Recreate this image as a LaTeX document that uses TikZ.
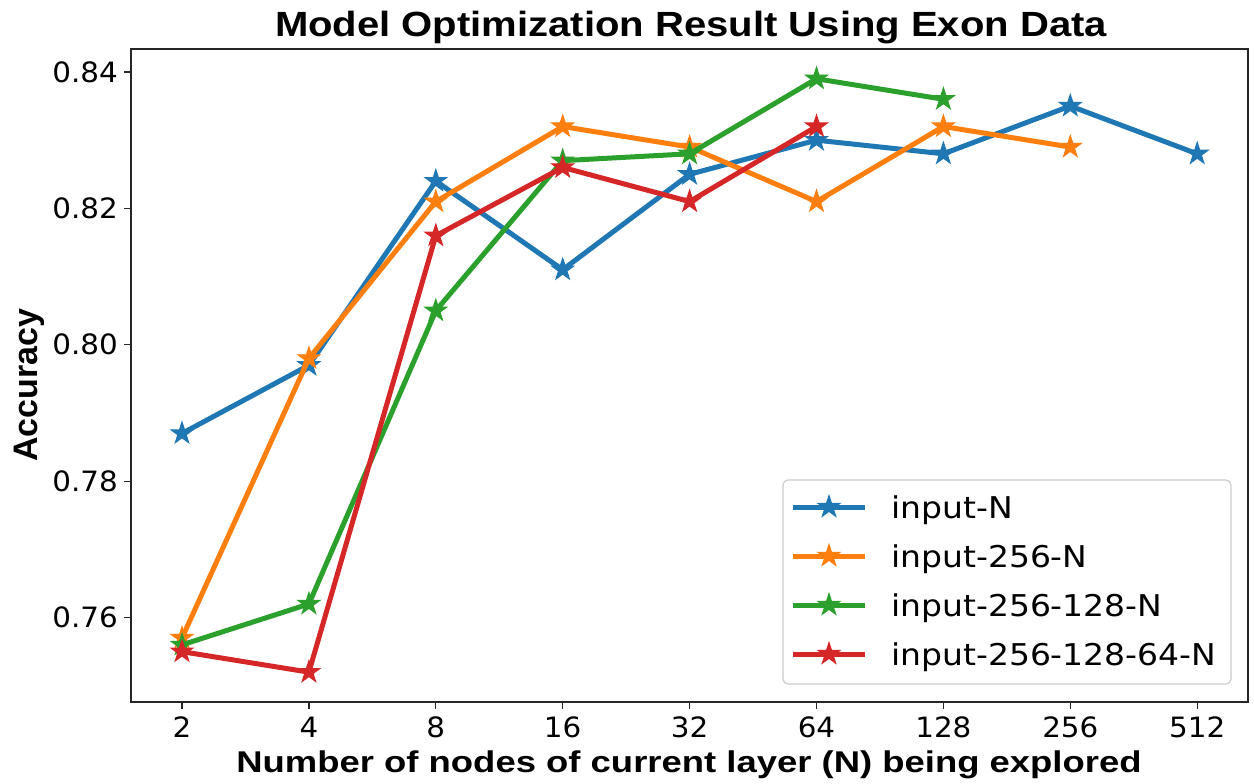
\documentclass[tikz,border=0pt]{standalone}
\usepackage{fontspec}
\setmainfont{DejaVu Sans}
\newfontfamily\labfont{Liberation Sans}
\usetikzlibrary{shapes.geometric}
\definecolor{tabblue}{HTML}{1F77B4}
\definecolor{taborange}{HTML}{FF7F0E}
\definecolor{tabgreen}{HTML}{2CA02C}
\definecolor{tabred}{HTML}{D62728}
\definecolor{legframe}{HTML}{CCCCCC}
\newcommand\tickfont{\fontsize{28}{30}\selectfont}
\newcommand\legfont{\fontsize{30}{32}\selectfont}
\newcommand\tkstretch[1]{\scalebox{1.05}[1]{#1}}
\newcommand\legstretch[1]{\scalebox{1.1}[1]{#1}}
\newcommand\drawseries[4]{%
  \foreach \i/\v in {#3} {\coordinate (#1\i) at ({182+126.9*\i},{72+(0.84-\v)*6820});}
  \draw[serline,#2] (#10) \foreach \k in {1,...,#4} { -- (#1\k) };
  \foreach \k in {0,...,#4} {\node[mstar,fill=#2,draw=#2] (#1s\k) at (#1\k) {};}
}
\begin{document}
\begin{tikzpicture}[x=1pt,y=-1pt,
  serline/.style={line width=5pt,line join=round},
  mstar/.style={star,star points=5,star point ratio=2.618,minimum size=23pt,inner sep=0pt,line width=1pt},
  frame/.style={line width=1.4pt,black!85},
  tickmark/.style={line width=1.2pt,black!85},
  ticklab/.style={font=\tickfont,inner sep=0pt},
  leglab/.style={font=\legfont,inner sep=0pt,anchor=base west},
  legbox/.style={draw=legframe,line width=1.2pt,rounded corners=5pt,fill=white,minimum width=448pt,minimum height=204pt,inner sep=0pt},
  titlelab/.style={font=\labfont\bfseries\fontsize{35}{37}\selectfont,inner sep=0pt},
  axlab/.style={font=\labfont\bfseries\fontsize{30}{32}\selectfont,inner sep=0pt},
  ylabst/.style={font=\labfont\bfseries\fontsize{34}{36}\selectfont,inner sep=0pt}
]
\useasboundingbox[fill=white] (0,0) rectangle (1254,784);
% frame
\coordinate (fa) at (131,49);
\coordinate (fb) at (1248,702);
\draw[frame] (fa) rectangle (fb);
% y ticks
\foreach \v [count=\n] in {0.84,0.82,0.80,0.78,0.76} {
  \coordinate (yt\n) at (131,{72+(0.84-\v)*6820});
  \coordinate (ys\n) at (124,{72+(0.84-\v)*6820});
  \draw[tickmark] (yt\n) -- (ys\n);
  \node[ticklab,anchor=east] (yl\n) at (118,{72+(0.84-\v)*6820}) {\tkstretch{\v}};
}
% x ticks
\foreach \t [count=\n from 0] in {2,4,8,16,32,64,128,256,512} {
  \coordinate (xt\n) at ({182+126.9*\n},702);
  \coordinate (xs\n) at ({182+126.9*\n},709);
  \draw[tickmark] (xt\n) -- (xs\n);
  \node[ticklab,anchor=base] (xl\n) at ({182+126.9*\n},737) {\tkstretch{\t}};
}
% series
\drawseries{b}{tabblue}{0/0.787,1/0.797,2/0.824,3/0.811,4/0.825,5/0.830,6/0.828,7/0.835,8/0.828}{8}
\drawseries{o}{taborange}{0/0.757,1/0.798,2/0.821,3/0.832,4/0.829,5/0.821,6/0.832,7/0.829}{7}
\drawseries{g}{tabgreen}{0/0.756,1/0.762,2/0.805,3/0.827,4/0.828,5/0.839,6/0.836}{6}
\drawseries{r}{tabred}{0/0.755,1/0.752,2/0.816,3/0.826,4/0.821,5/0.832}{5}
% legend
\node[legbox] (leg) at (1007,582) {};
\foreach \c/\txt [count=\n] in {tabblue/input-N,taborange/input-256-N,tabgreen/input-256-128-N,tabred/input-256-128-64-N} {
  \coordinate (la\n) at (793,{458+49*\n});
  \coordinate (lb\n) at (865,{458+49*\n});
  \draw[serline,\c] (la\n) -- (lb\n);
  \node[mstar,fill=\c,draw=\c] (ls\n) at (829,{458+49*\n}) {};
  \node[leglab] (lt\n) at (891,{469+49*\n}) {\legstretch{\txt}};
}
% labels
\node[titlelab,anchor=base] (title) at (691,36.5) {\scalebox{1.144}[1]{Model Optimization Result Using Exon Data}};
\node[axlab,anchor=base] (xlab) at (689,772) {\scalebox{1.215}[1]{Number of nodes of current layer (N) being explored}};
\node[ylabst,anchor=base,rotate=90] (ylab) at (37,385) {Accuracy};
\end{tikzpicture}
\end{document}
